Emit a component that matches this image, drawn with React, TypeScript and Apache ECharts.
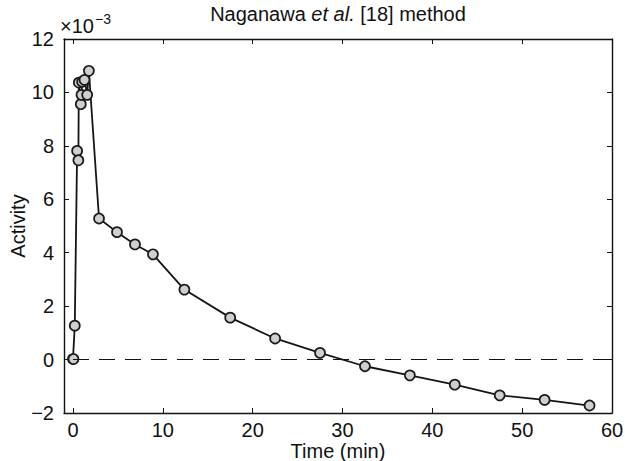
import React, { useEffect, useRef } from "react";
import * as echarts from "echarts";

// Time in minutes
const timeMin = [
  0, 0.05, 0.2, 0.46, 0.6, 0.65, 0.87, 0.95, 1.02, 1.28, 1.58, 1.77,
  2.9, 4.9, 6.9, 8.9, 12.4, 17.5, 22.5, 27.5, 32.5, 37.5, 42.5, 47.5, 52.5, 57.5,
];
// Activity in units of 10^-3
const activityE3 = [
  0.02, 0.02, 1.27, 7.81, 7.46, 10.37, 9.56, 9.91, 10.4, 10.47, 9.91, 10.81,
  5.28, 4.77, 4.31, 3.94, 2.62, 1.57, 0.79, 0.25, -0.25, -0.59, -0.94, -1.34, -1.51, -1.72,
];
const xTicks = [0, 10, 20, 30, 40, 50, 60];
const yTicks = [-2, 0, 2, 4, 6, 8, 10, 12];
const zeroLine = { from: 0, to: 60, value: 0 };

const FONT = "'Liberation Sans', Arial, Helvetica, sans-serif";
const FS = 20;
const minus = (v: number) => String(v).replace("-", "\u2212");

export default function App() {
  const ref = useRef<HTMLDivElement>(null);
  useEffect(() => {
    document.body.style.margin = "0";
    const chart = echarts.init(ref.current!, null, { renderer: "svg" });
    const axisLine = { show: true, onZero: false, lineStyle: { color: "#111", width: 1.4 } };
    const tick = { inside: true, length: 5, lineStyle: { color: "#111", width: 1 } };
    chart.setOption({
      animation: false,
      backgroundColor: "#fff",
      textStyle: { fontFamily: FONT },
      grid: { left: 64, right: 13, top: 39, bottom: 48, containLabel: false, outerBoundsMode: "none" },
      xAxis: [
        {
          type: "value",
          min: -1,
          max: 60,
          position: "bottom",
          axisLine,
          axisTick: { ...tick, customValues: xTicks },
          axisLabel: { customValues: xTicks, color: "#111", fontSize: FS, margin: 7, fontFamily: FONT, formatter: minus },
          splitLine: { show: false },
          name: "Time (min)",
          nameLocation: "middle",
          nameGap: 28,
          nameMoveOverlap: false,
          nameTextStyle: { color: "#111", fontSize: FS, fontFamily: FONT },
        },
        {
          type: "value",
          min: -1,
          max: 60,
          position: "top",
          axisLine,
          axisTick: { ...tick, customValues: xTicks },
          axisLabel: { show: false },
          splitLine: { show: false },
        },
      ],
      yAxis: [
        {
          type: "value",
          min: -2,
          max: 12,
          interval: 2,
          position: "left",
          axisLine,
          axisTick: { ...tick, customValues: yTicks },
          axisLabel: { color: "#111", fontSize: FS, margin: 10, fontFamily: FONT, formatter: minus },
          splitLine: { show: false },
          name: "Activity",
          nameLocation: "middle",
          nameGap: 36,
          nameMoveOverlap: false,
          nameTextStyle: { color: "#111", fontSize: FS, fontFamily: FONT },
        },
        {
          type: "value",
          min: -2,
          max: 12,
          interval: 2,
          position: "right",
          axisLine,
          axisTick: { ...tick, customValues: yTicks },
          axisLabel: { show: false },
          splitLine: { show: false },
        },
      ],
      graphic: [
        {
          type: "text",
          x: 338,
          y: 14,
          style: {
            text: "{n|Naganawa }{i|et al.}{n| [18] method}",
            align: "center",
            verticalAlign: "middle",
            rich: {
              n: { fontSize: FS, fontFamily: FONT, fill: "#111" },
              i: { fontSize: FS, fontFamily: FONT, fontStyle: "italic", fill: "#111" },
            },
          },
        },
        {
          type: "text",
          x: 60,
          y: 26,
          style: { text: "×10", fontSize: FS, fontFamily: FONT, fill: "#111", verticalAlign: "middle" },
        },
        {
          type: "text",
          x: 95,
          y: 19,
          style: { text: "−3", fontSize: 14, fontFamily: FONT, fill: "#111", verticalAlign: "middle" },
        },
      ],
      series: [
        {
          type: "line",
          data: timeMin.map((t, i) => [t, activityE3[i]]),
          symbol: "circle",
          symbolSize: 10,
          lineStyle: { color: "#151515", width: 1.8 },
          itemStyle: { color: "#cfcfcf", borderColor: "#1a1a1a", borderWidth: 1.7 },
          z: 3,
          markLine: {
            silent: true,
            symbol: "none",
            label: { show: false },
            lineStyle: { color: "#111", type: [16, 10], width: 1.1 },
            data: [[{ coord: [zeroLine.from, zeroLine.value] }, { coord: [zeroLine.to, zeroLine.value] }]],
          },
        },
      ],
    });
    return () => chart.dispose();
  }, []);
  return <div ref={ref} style={{ position: "fixed", left: 0, top: 0, width: 625, height: 461 }} />;
}
